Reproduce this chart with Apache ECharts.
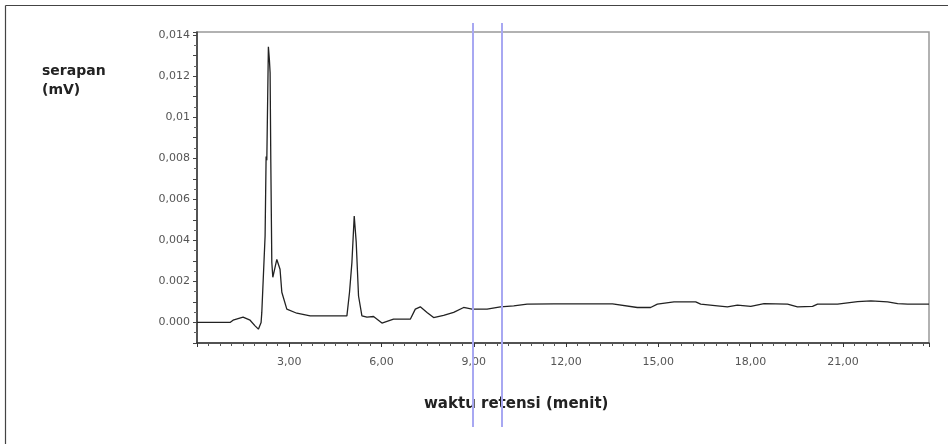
<!DOCTYPE html>
<html>
<head>
<meta charset="utf-8">
<script src="https://cdn.jsdelivr.net/npm/echarts@6/dist/echarts.min.js"></script>
<style>
html,body{margin:0;padding:0;background:#fff;}
#chart{width:948px;height:444px;}
</style>
</head>
<body>
<div id="chart"></div>
<script>
// Retention time (min) and absorbance (mV)
var retentionTime = [0, 1.074, 1.172, 1.498, 1.726, 1.888, 1.996, 2.084, 2.107, 2.214, 2.247, 2.27, 2.321, 2.354, 2.377, 2.40, 2.432, 2.465, 2.595, 2.70, 2.758, 2.92, 3.246, 3.679, 4.874, 4.959, 5.037, 5.112, 5.177, 5.252, 5.362, 5.525, 5.74, 6.013, 6.39, 6.935, 7.098, 7.26, 7.479, 7.693, 8.019, 8.345, 8.67, 8.944, 9.432, 9.865, 10.298, 10.734, 11.6, 13.51, 13.544, 14.316, 14.749, 14.967, 15.508, 16.214, 16.377, 16.92, 17.246, 17.571, 18.005, 18.438, 19.2, 19.525, 20.013, 20.176, 20.827, 21.478, 21.912, 22.455, 22.781, 23.106, 23.8];
var absorbance = [0, 0, 0.00011, 0.00026, 0.00011, -0.000165, -0.000325, 0, 0.00049, 0.00421, 0.00809, 0.0079, 0.01343, 0.0128, 0.01216, 0.00779, 0.00293, 0.0022, 0.00307, 0.00259, 0.00147, 0.00065, 0.00045, 0.00032, 0.00032, 0.00147, 0.00293, 0.00518, 0.0039, 0.00129, 0.00032, 0.00026, 0.00029, -0.00003, 0.00016, 0.00016, 0.00065, 0.00076, 0.00049, 0.00024, 0.00035, 0.00049, 0.00073, 0.00065, 0.00065, 0.00076, 0.00081, 0.00089, 0.00091, 0.00091, 0.00084, 0.00073, 0.00073, 0.00089, 0.001, 0.001, 0.00089, 0.00081, 0.00076, 0.00085, 0.00078, 0.00092, 0.00089, 0.00076, 0.00078, 0.00089, 0.00089, 0.00102, 0.00105, 0.001, 0.00092, 0.00089, 0.00089];
// Vertical marker lines (min)
var markerTimes = [8.963, 9.92];
// Tick labels
var xTickValues = [3, 6, 9, 12, 15, 18, 21];
var xTickLabels = ['3,00', '6,00', '9,00', '12,00', '15,00', '18,00', '21,00'];
var yTickValues = [0, 0.002, 0.004, 0.006, 0.008, 0.01, 0.012, 0.014];
var yTickLabels = ['0.000', '0.002', '0,004', '0,006', '0,008', '0,01', '0,012', '0,014'];
var yTitle = 'serapan\n(mV)';
var xTitle = 'waktu retensi (menit)';

var pts = retentionTime.map(function (t, i) { return [t, absorbance[i]]; });

function lookup(vals, labels, v) {
  for (var i = 0; i < vals.length; i++) {
    if (Math.abs(vals[i] - v) < 1e-7) return labels[i];
  }
  return '';
}

var chart = echarts.init(document.getElementById('chart'), null, {renderer: 'canvas'});
var labelFont = {fontFamily: 'DejaVu Sans', fontSize: 11, color: '#555'};
chart.setOption({
  animation: false,
  backgroundColor: '#fff',
  grid: [
    {left: 197, right: 19, top: 32, bottom: 101, show: true, borderColor: '#999', borderWidth: 1.5},
    {left: 197, right: 19, top: 23, bottom: 17, show: false}
  ],
  xAxis: [
    {
      type: 'value', gridIndex: 0, min: 0, max: 23.8, interval: 3,
      axisLine: {show: true, onZero: false, lineStyle: {color: '#333', width: 1.5}},
      axisTick: {show: true, length: 4, lineStyle: {color: '#333'}},
      minorTick: {show: true, splitNumber: 8, length: 3, lineStyle: {color: '#555'}},
      splitLine: {show: false},
      axisLabel: Object.assign({
        margin: 14, showMinLabel: false, showMaxLabel: false,
        formatter: function (v) { return lookup(xTickValues, xTickLabels, v); }
      }, labelFont)
    },
    {type: 'value', gridIndex: 1, min: 0, max: 23.8, show: false}
  ],
  yAxis: [
    {
      type: 'value', gridIndex: 0, min: -0.001, max: 0.01415, interval: 0.001,
      axisLine: {show: true, lineStyle: {color: '#333', width: 1.5}},
      axisTick: {show: true, length: 4, lineStyle: {color: '#444'}},
      minorTick: {show: true, splitNumber: 2, length: 3, lineStyle: {color: '#666'}},
      splitLine: {show: false},
      axisLabel: Object.assign({
        margin: 7, showMaxLabel: false,
        formatter: function (v) { return lookup(yTickValues, yTickLabels, v); }
      }, labelFont)
    },
    {type: 'value', gridIndex: 1, min: 0, max: 1, show: false}
  ],
  series: [
    {
      type: 'line', xAxisIndex: 0, yAxisIndex: 0, data: pts,
      showSymbol: false, symbol: 'none', smooth: false,
      lineStyle: {color: '#222', width: 1.3}, z: 3
    },
    {
      type: 'line', xAxisIndex: 1, yAxisIndex: 1, data: [],
      showSymbol: false, silent: true,
      markLine: {
        silent: true, symbol: ['none', 'none'], label: {show: false},
        lineStyle: {color: '#a8a8f2', width: 2, type: 'solid'},
        data: markerTimes.map(function (t) { return {xAxis: t}; })
      },
      z: 4
    }
  ],
  graphic: [
    {type: 'line', shape: {x1: 5.5, y1: 5.5, x2: 948, y2: 5.5}, style: {stroke: '#444', lineWidth: 1.2}, silent: true},
    {type: 'line', shape: {x1: 5.5, y1: 5.5, x2: 5.5, y2: 444}, style: {stroke: '#444', lineWidth: 1.2}, silent: true},
    {type: 'text', left: 42, top: 62, silent: true,
      style: {text: yTitle, fontFamily: 'DejaVu Sans', fontWeight: 'bold', fontSize: 14, lineHeight: 19, fill: '#222'}},
    {type: 'text', left: 424, top: 397, silent: true,
      style: {text: xTitle, fontFamily: 'DejaVu Sans', fontWeight: 'bold', fontSize: 15, fill: '#222'}}
  ]
});
</script>
</body>
</html>
